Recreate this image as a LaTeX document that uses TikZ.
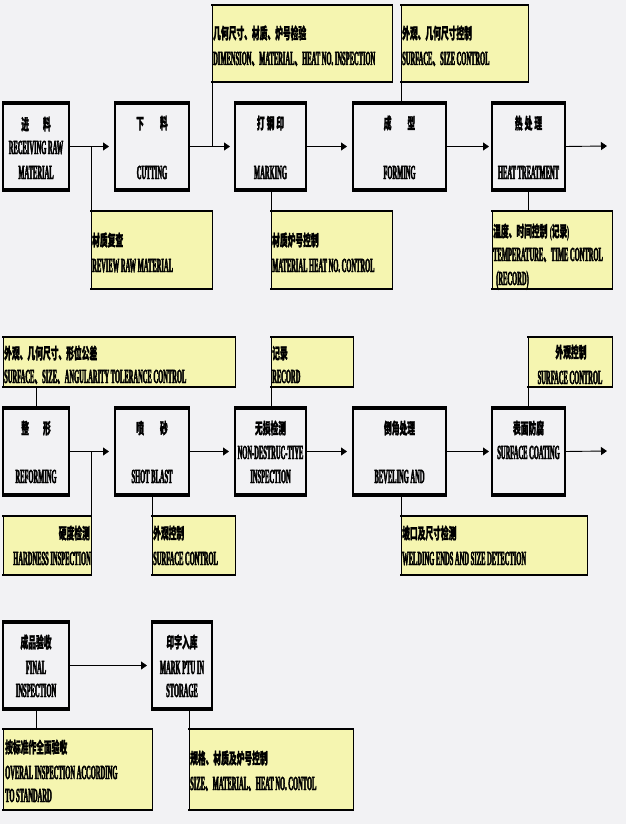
\documentclass[tikz,border=0pt]{standalone}
\usepackage{fontspec}
\usetikzlibrary{arrows.meta}
\newfontfamily\enfont[FakeStretch=0.325,FakeBold=2.2]{Liberation Serif}
\newfontfamily\cjkfont[FakeStretch=0.5,FakeBold=1.5]{Noto Sans CJK SC}
\newcommand{\zh}[1]{{\cjkfont\bfseries\fontsize{15.5}{15.5}\selectfont #1}}
\definecolor{bgc}{RGB}{242,242,244}
\definecolor{ylw}{RGB}{245,245,176}
\newcommand{\edges}[2]{\draw[line width=#2,line cap=butt] ([xshift=-0.75pt]#1.north west) -- ([xshift=0.75pt]#1.north east) ([xshift=-0.75pt]#1.south west) -- ([xshift=0.75pt]#1.south east);}
\tikzset{
  pbox/.style={draw=black, line width=1.6pt, fill=bgc, inner sep=0pt, outer sep=0pt, minimum height=87pt},
  ybox/.style={draw=black, line width=0.9pt, fill=ylw, inner sep=0pt, outer sep=0pt},
  en/.style={font=\enfont\bfseries\fontsize{20}{20}\selectfont, inner sep=0pt, anchor=base},
  cn/.style={font=\cjkfont\bfseries\fontsize{15.5}{15.5}\selectfont, inner sep=0pt, anchor=base},
  enl/.style={en, anchor=base west},
  cnl/.style={cn, anchor=base west},
  arr/.style={line width=0.9pt, -{Triangle[length=6pt,width=8pt]}},
  con/.style={line width=0.9pt}
}
\begin{document}
\begin{tikzpicture}[x=1pt,y=-1pt]
\useasboundingbox[fill=bgc] (0,0) rectangle (626,824);
% ---------- row 1 process boxes
\node[pbox, minimum width=66pt] (recv) at (36,146.5) {};
\node[pbox, minimum width=74pt] (cut) at (152,146.5) {};
\node[pbox, minimum width=71pt] (mark) at (270.5,146.5) {};
\node[pbox, minimum width=93pt] (form) at (399.5,146.5) {};
\node[pbox, minimum width=73pt] (heat) at (528.5,146.5) {};
% ---------- row 2 process boxes
\node[pbox, minimum width=66pt] (reform) at (36,451.5) {};
\node[pbox, minimum width=74pt] (shot) at (152,451.5) {};
\node[pbox, minimum width=71pt] (ndt) at (270.5,451.5) {};
\node[pbox, minimum width=93pt] (bevel) at (399.5,451.5) {};
\node[pbox, minimum width=73pt] (coat) at (528.5,451.5) {};
% ---------- row 3 process boxes
\node[pbox, minimum width=66pt] (final) at (36,665.5) {};
\node[pbox, minimum width=60pt] (store) at (182,665.5) {};
\foreach \n in {recv,cut,mark,form,heat,reform,shot,ndt,bevel,coat,final,store}{\edges{\n}{3.5pt}}
% ---------- yellow boxes
\node[ybox, minimum width=180pt, minimum height=77pt] (y1) at (302,43.5) {};
\node[ybox, minimum width=127pt, minimum height=77pt] (y2) at (464.5,43.5) {};
\node[ybox, minimum width=121pt, minimum height=78pt] (y3) at (151.5,250) {};
\node[ybox, minimum width=121pt, minimum height=78pt] (y4) at (331.5,250) {};
\node[ybox, minimum width=120pt, minimum height=78pt] (y5) at (552,250) {};
\node[ybox, minimum width=232pt, minimum height=50pt] (y6) at (119,362) {};
\node[ybox, minimum width=82pt, minimum height=50pt] (y7) at (312,362) {};
\node[ybox, minimum width=84pt, minimum height=50pt] (y8) at (570,362) {};
\node[ybox, minimum width=88pt, minimum height=59pt] (y9) at (47,545.5) {};
\node[ybox, minimum width=83pt, minimum height=59pt] (y10) at (193.5,545.5) {};
\node[ybox, minimum width=186pt, minimum height=59pt] (y11) at (494,545.5) {};
\node[ybox, minimum width=149pt, minimum height=81pt] (y12) at (77.5,769.5) {};
\node[ybox, minimum width=164pt, minimum height=81pt] (y13) at (271,769.5) {};
\foreach \n in {y1,y2,y3,y4,y5,y6,y7,y8,y9,y10,y11,y12,y13}{\edges{\n}{2pt}}
% ---------- end points
\coordinate (out1) at (607,146);
\coordinate (out2) at (607,451);
% ---------- arrows row 1
\draw[arr, shorten >=6pt] (recv.east) -- (cut.west);
\draw[arr, shorten >=5pt] (cut.east) -- (mark.west);
\draw[arr, shorten >=6pt] (mark.east) -- (form.west);
\draw[arr, shorten >=3pt] (form.east) -- (heat.west);
\draw[arr] (heat.east) -- (out1);
% ---------- arrows row 2
\draw[arr, shorten >=6pt] (reform.east) -- (shot.west);
\draw[arr, shorten >=6pt] (shot.east) -- (ndt.west);
\draw[arr, shorten >=6pt] (ndt.east) -- (bevel.west);
\draw[arr, shorten >=3pt] (bevel.east) -- (coat.west);
\draw[arr] (coat.east) -- (out2);
% ---------- arrow row 3
\draw[arr, shorten >=5pt] (final.east) -- (store.west);
% ---------- connectors
\draw[con] (y1.south west) -- (y1.south west |- cut.east);
\draw[con] (y2.south west) -- (y2.south west |- form.north);
\draw[con] (y3.north west) -- (y3.north west |- recv.east);
\draw[con] (y4.north west) -- (y4.north west |- mark.south);
\draw[con] (heat.south) -- (heat.south |- y5.north);
\draw[con] (y6.south -| reform.north) -- (reform.north);
\draw[con] (y7.south west) -- (y7.south west |- ndt.north);
\draw[con] (y8.south west) -- (y8.south west |- coat.north);
\draw[con] (y9.north east) -- (y9.north east |- reform.east);
\draw[con] (shot.south) -- (shot.south |- y10.north);
\draw[con] (y11.north west) -- (y11.north west |- bevel.south);
\draw[con] (final.south) -- (final.south |- y12.north);
\draw[con] (y13.north west) -- (y13.north west |- store.south);
% ---------- process box texts
\node[cn] (t1a) at (36,130) {进\hspace{14pt}料};
\node[en] (t1b) at (36,154) {RECEIVING RAW};
\node[en] (t1c) at (36,179) {MATERIAL};
\node[cn] (t2a) at (152,129) {下\hspace{16pt}料};
\node[en] (t2b) at (152,179) {CUTTING};
\node[cn] (t3a) at (270.5,129) {打\hspace{2pt}钢\hspace{2pt}印};
\node[en] (t3b) at (270.5,179) {MARKING};
\node[cn] (t4a) at (399.5,129) {成\hspace{16pt}型};
\node[en] (t4b) at (399.5,179) {FORMING};
\node[cn] (t5a) at (528.5,129) {热\hspace{2pt}处\hspace{2pt}理};
\node[en] (t5b) at (528.5,179) {HEAT TREATMENT};
\node[cn] (t6a) at (36,434) {整\hspace{14pt}形};
\node[en] (t6b) at (36,483) {REFORMING};
\node[cn] (t7a) at (152,434) {喷\hspace{16pt}砂};
\node[en] (t7b) at (152,483) {SHOT BLAST};
\node[cn] (t8a) at (270.5,434) {无损检测};
\node[en] (t8b) at (270.5,459) {NON-DESTRUC-TIYE};
\node[en] (t8c) at (270.5,483) {INSPECTION};
\node[cn] (t9a) at (399.5,434) {倒角处理};
\node[en] (t9b) at (399.5,483) {BEVELING AND};
\node[cn] (t10a) at (528.5,434) {表面防腐};
\node[en] (t10b) at (528.5,459) {SURFACE COATING};
\node[cn] (t11a) at (36,648) {成品验收};
\node[en] (t11b) at (36,674) {FINAL};
\node[en] (t11c) at (36,697) {INSPECTION};
\node[cn] (t12a) at (182,648) {印字入库};
\node[en] (t12b) at (182,674) {MARK PTU IN};
\node[en] (t12c) at (182,697) {STORAGE};
% ---------- yellow box texts
\node[cnl] (u1a) at (213,39) {几何尺寸、材质、炉号检验};
\node[enl] (u1b) at (213,65) {DIMENSION\zh{、}MATERIAL\zh{、}HEAT NO. INSPECTION};
\node[cnl] (u2a) at (402,39) {外观、几何尺寸控制};
\node[enl] (u2b) at (402,65) {SURFACE\zh{、}SIZE CONTROL};
\node[cnl] (u3a) at (92,246) {材质复查};
\node[enl] (u3b) at (92,272) {REVIEW RAW MATERIAL};
\node[cnl] (u4a) at (272,246) {材质炉号控制};
\node[enl] (u4b) at (272,272) {MATERIAL HEAT NO. CONTROL};
\node[cnl] (u5a) at (493,237) {温度、时间控制\,{\enfont\bfseries (}记录{\enfont\bfseries )}};
\node[enl] (u5b) at (493,261) {TEMPERATURE\zh{、}TIME CONTROL};
\node[enl] (u5c) at (496,285) {(RECORD)};
\node[cnl] (u6a) at (4,359) {外观、几何尺寸、形位公差};
\node[enl] (u6b) at (4,383) {SURFACE\zh{、}SIZE\zh{、}ANGULARITY TOLERANCE CONTROL};
\node[cnl] (u7a) at (272,359) {记录};
\node[enl] (u7b) at (272,383) {RECORD};
\node[cn] (u8a) at (571,358) {外观控制};
\node[en] (u8b) at (570,384) {SURFACE CONTROL};
\node[cn, anchor=base east] (u9a) at (90,539) {硬度检测};
\node[en, anchor=base east] (u9b) at (91,565) {HARDNESS INSPECTION};
\node[cnl] (u10a) at (153,539) {外观控制};
\node[enl] (u10b) at (153,565) {SURFACE CONTROL};
\node[cnl] (u11a) at (402,539) {坡口及尺寸检测};
\node[enl] (u11b) at (402,565) {WELDING ENDS AND SIZE DETECTION};
\node[cnl] (u12a) at (5,753) {按标准作全面验收};
\node[enl] (u12b) at (5,779) {OVERAL INSPECTION ACCORDING};
\node[enl] (u12c) at (5,802) {TO STANDARD};
\node[cnl] (u13a) at (190,764) {规格、材质及炉号控制};
\node[enl] (u13b) at (190,790) {SIZE\zh{、}MATERIAL\zh{、}HEAT NO. CONTOL};
\end{tikzpicture}
\end{document}
